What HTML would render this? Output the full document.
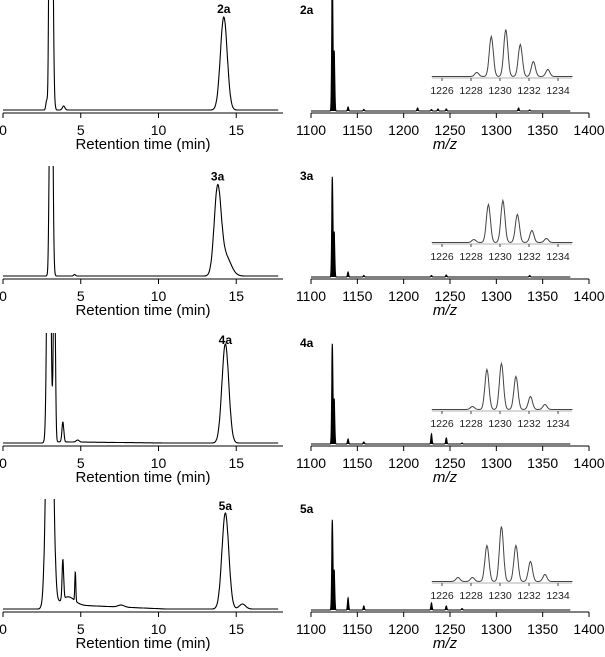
<!DOCTYPE html>
<html><head><meta charset="utf-8"><style>
html,body{margin:0;padding:0;background:#fff;}
svg{display:block;font-family:"Liberation Sans",Arial,sans-serif;}
</style></head><body>
<svg id="fig" width="605" height="657" viewBox="0 0 605 657"></svg>
<script>
// ---- data ----
const samples = ["2a","3a","4a","5a"];
const rtTicks = [0,5,10,15];
const mzTicks = [1100,1150,1200,1250,1300,1350,1400];
const insetTicks = [1226,1228,1230,1232,1234];
// chromatogram peaks: [retention time, height, width(sd, min)]
const lcPeaks = [
  [[3.1,400,0.09],[2.95,60,0.03],[2.8,8,0.05],[3.9,4,0.08],[14.2,93,0.22]],
  [[3.1,400,0.08],[2.95,15,0.03],[4.6,1.5,0.06],[13.8,84,0.22],[14.3,20,0.35]],
  [[2.95,400,0.1],[3.3,200,0.06],[3.85,20,0.06],[4.8,2,0.1],[14.3,99,0.22]],
  [[3.0,400,0.18],[3.85,40,0.05],[4.65,30,0.03],[4.2,8,0.4],[7.6,2,0.2],[14.3,96,0.22],[15.4,5,0.2]]
];
const lcLabelT = [14.2,13.8,14.3,14.3];
const lcBaselineTilt = [0,0,1,4];
// MS peaks: [m/z, height]
const msPeaks = [
  [[1123,140],[1125,60],[1140,4],[1157,1.5],[1215,3],[1230,1.5],[1237,2],[1246,2],[1324,3],[1336,1]],
  [[1123,100],[1125,45],[1140,5],[1157,1.5],[1230,1.5],[1246,2],[1336,1.5]],
  [[1123,100],[1125,45],[1140,5],[1157,2],[1230,10],[1246,6],[1263,1]],
  [[1123,90],[1125,40],[1140,12],[1157,4],[1230,7],[1246,4],[1263,1.5]]
];
// isotope inset peaks: [m/z, height]
const isoPeaks = [
  [[1228.4,4],[1229.4,40],[1230.4,47],[1231.4,32],[1232.3,15],[1233.3,7]],
  [[1228.2,3],[1229.2,38],[1230.2,42],[1231.2,28],[1232.2,12],[1233.2,4]],
  [[1228.1,3],[1229.1,40],[1230.1,46],[1231.1,33],[1232.1,13],[1233.1,5]],
  [[1227.1,4],[1228.1,4],[1229.1,36],[1230.1,55],[1231.1,36],[1232.1,20],[1233.1,7]]
];
// ---- layout ----
const rowTop = [0,166,333,499];
const NS="http://www.w3.org/2000/svg";
const svg=document.getElementById('fig');
function mk(t,a,p){const e=document.createElementNS(NS,t);for(const k in a)e.setAttribute(k,a[k]);(p||svg).appendChild(e);return e;}
const xL=t=>3+t*15.55;
const xR=m=>311+(m-1100)*(278/300);
const xI=m=>442+(m-1226)*14.5;
function gsum(peaks,x,sdDefault){let s=0;for(const p of peaks){const sd=p[2]||sdDefault;s+=p[1]*Math.exp(-0.5*Math.pow((x-p[0])/sd,2));}return s;}
samples.forEach((name,i)=>{
  const top=rowTop[i];
  const g=mk('g',{});
  
  
  const clip=mk('clipPath',{id:'c'+i},g);mk('rect',{x:0,y:top,width:605,height:166},clip);
  const ay=top+113;
  // left axis
  const la=mk('line',{x1:3,y1:ay,x2:283,y2:ay,stroke:'#000','stroke-width':1});
  
  rtTicks.forEach(t=>{mk('line',{x1:xL(t),y1:ay,x2:xL(t),y2:ay+5,stroke:'#000'});
    const tx=mk('text',{x:xL(t),y:ay+22,'font-size':14,'text-anchor':'middle'});tx.textContent=t;
    });
  const lt=mk('text',{x:143,y:ay+36,'font-size':15,'text-anchor':'middle'});lt.textContent='Retention time (min)';
  
  // chromatogram
  let d='';const base=top+110;let peakTop=0;
  for(let t=0;t<=17.7;t+=0.02){const v=gsum(lcPeaks[i],t,0.1)+lcBaselineTilt[i]*(t>2.8&&t<14?Math.max(0,1-(t-4.5)/6):0);
    if(t>10) peakTop=Math.max(peakTop,v);
    d+=(t===0?'M':'L')+xL(t).toFixed(1)+','+(base-v).toFixed(1);}
  const lp=mk('path',{d:d,fill:'none',stroke:'#000','stroke-width':1.1,'clip-path':'url(#c'+i+')'});
  
  const ll=mk('text',{x:xL(lcLabelT[i]),y:Math.max(top+11,base-peakTop-4),'font-size':12,'font-weight':'bold','text-anchor':'middle'});ll.textContent=name;
  
  // right axis
  const ra=mk('line',{x1:311,y1:ay,x2:589,y2:ay,stroke:'#000','stroke-width':1});
  
  mzTicks.forEach(m=>{mk('line',{x1:xR(m),y1:ay,x2:xR(m),y2:ay+5,stroke:'#000'});
    const tx=mk('text',{x:xR(m),y:ay+22,'font-size':14,'text-anchor':'middle'});tx.textContent=m;
    });
  const rt=mk('text',{x:445,y:ay+36,'font-size':15,'text-anchor':'middle','font-style':'italic'});rt.textContent='m/z';
  
  const rl=mk('text',{x:300,y:top+14,'font-size':12,'font-weight':'bold'});rl.textContent=name;
  
  // mass spectrum
  let md='';const mb=top+111;
  for(let m=1100;m<=1380;m+=0.2){const v=gsum(msPeaks[i],m,0.6);md+=(m===1100?'M':'L')+xR(m).toFixed(1)+','+(mb-v).toFixed(1);}
  const mp=mk('path',{d:md,fill:'#000',stroke:'#000','stroke-width':1.1,'clip-path':'url(#c'+i+')'});
  
  // inset
  const ib=top+(i==3?84:78);
  let id='';
  for(let m=1225.3;m<=1235;m+=0.05){const v=gsum(isoPeaks[i],m,0.14)+1.5;id+=(m===1225.3?'M':'L')+xI(m).toFixed(1)+','+(ib-v).toFixed(1);}
  const ip=mk('path',{d:id,fill:'none',stroke:'#444','stroke-width':1});
  
  mk('line',{x1:432,y1:ib,x2:572,y2:ib,stroke:'#666','stroke-width':0.6});
  insetTicks.forEach(m=>{mk('line',{x1:xI(m),y1:ib,x2:xI(m),y2:ib+3,stroke:'#444'});
    const tx=mk('text',{x:xI(m),y:ib+16,'font-size':10.5,'text-anchor':'middle',fill:'#222'});tx.textContent=m;
    });
});
</script>
</body></html>
